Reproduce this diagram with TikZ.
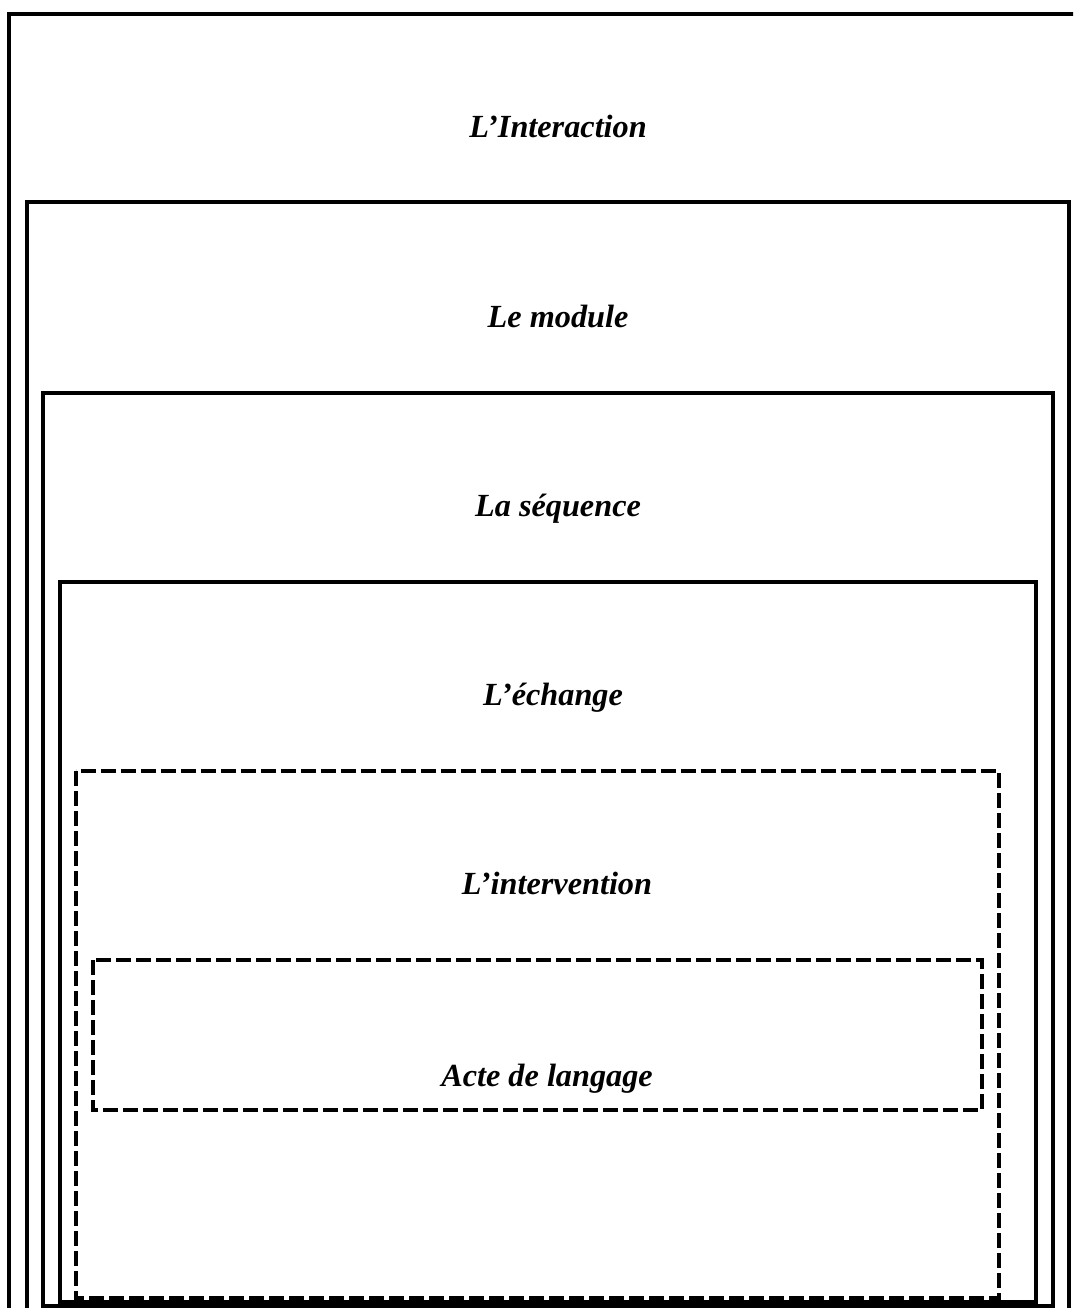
\documentclass[tikz,border=0pt]{standalone}
\usepackage{fontspec}
\setmainfont{Liberation Serif}
\begin{document}
\begin{tikzpicture}[x=0.75pt,y=-0.75pt,
  solidbox/.style={draw=black,line width=3.4pt},
  dashbox/.style={draw=black,line width=3.4pt,dash pattern=on 11.25pt off 3.75pt},
  lbl/.style={anchor=base,font=\fontsize{24.2}{28}\selectfont\bfseries\itshape,inner sep=0pt}]
\useasboundingbox (0,0) rectangle (1073,1308);
\fill[white] (0,0) rectangle (1073,1308);
\begin{scope}
\clip (0,0) rectangle (1073,1308);
\draw[solidbox] (9,14) rectangle (1090,1330);
\draw[solidbox] (27,202) rectangle (1069,1330);
\draw[solidbox] (43,393) rectangle (1053,1306);
\draw[solidbox] (60,582) rectangle (1036,1302);
\draw[dashbox] (76,771) rectangle (999,1298);
\draw[dashbox] (93,960) rectangle (982,1110);
\end{scope}
\node[lbl] (interaction) at (558,138) {L’Interaction};
\node[lbl] (module) at (558,328) {Le module};
\node[lbl] (sequence) at (558,516) {La séquence};
\node[lbl] (echange) at (553,705) {L’échange};
\node[lbl] (intervention) at (557,894) {L’intervention};
\node[lbl] (acte) at (547,1086) {Acte de langage};
\end{tikzpicture}
\end{document}
